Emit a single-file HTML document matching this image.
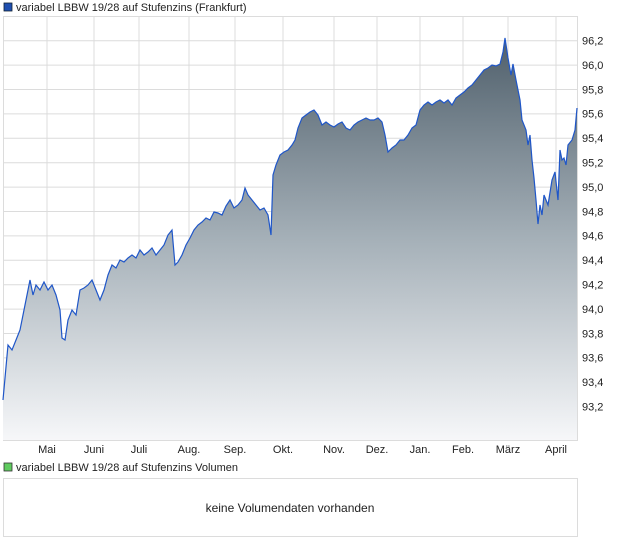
<!DOCTYPE html>
<html><head><meta charset="utf-8"><style>
body{margin:0;background:#fff;width:620px;height:546px;overflow:hidden;font-family:"Liberation Sans",sans-serif;}
svg text{font-family:"Liberation Sans",sans-serif;}
</style></head><body>
<svg width="620" height="546" xmlns="http://www.w3.org/2000/svg">
<defs><linearGradient id="g" gradientUnits="userSpaceOnUse" x1="0" y1="38" x2="0" y2="440">
<stop offset="0" stop-color="#4f5f6b"/><stop offset="0.5" stop-color="#a5b0b8"/><stop offset="1" stop-color="#f6f7f9"/></linearGradient></defs>
<rect x="4" y="3" width="8" height="8" fill="#1f4fb0" stroke="#123" stroke-width="0.8"/>
<text x="16" y="11" font-size="11" fill="#222">variabel LBBW 19/28 auf Stufenzins (Frankfurt)</text>
<g stroke="#dcdcdc" stroke-width="1">
<rect x="3.5" y="16.5" width="574" height="424" fill="#fff"/>
<line x1="47" y1="17" x2="47" y2="440"/><line x1="94" y1="17" x2="94" y2="440"/><line x1="139" y1="17" x2="139" y2="440"/><line x1="189" y1="17" x2="189" y2="440"/><line x1="235" y1="17" x2="235" y2="440"/><line x1="283" y1="17" x2="283" y2="440"/><line x1="334" y1="17" x2="334" y2="440"/><line x1="377" y1="17" x2="377" y2="440"/><line x1="420" y1="17" x2="420" y2="440"/><line x1="463" y1="17" x2="463" y2="440"/><line x1="508" y1="17" x2="508" y2="440"/><line x1="556" y1="17" x2="556" y2="440"/>
<line x1="3" y1="40.7" x2="578" y2="40.7"/><line x1="3" y1="65.1" x2="578" y2="65.1"/><line x1="3" y1="89.5" x2="578" y2="89.5"/><line x1="3" y1="113.9" x2="578" y2="113.9"/><line x1="3" y1="138.3" x2="578" y2="138.3"/><line x1="3" y1="162.7" x2="578" y2="162.7"/><line x1="3" y1="187.1" x2="578" y2="187.1"/><line x1="3" y1="211.5" x2="578" y2="211.5"/><line x1="3" y1="235.9" x2="578" y2="235.9"/><line x1="3" y1="260.3" x2="578" y2="260.3"/><line x1="3" y1="284.7" x2="578" y2="284.7"/><line x1="3" y1="309.1" x2="578" y2="309.1"/><line x1="3" y1="333.5" x2="578" y2="333.5"/><line x1="3" y1="357.9" x2="578" y2="357.9"/><line x1="3" y1="382.3" x2="578" y2="382.3"/><line x1="3" y1="406.7" x2="578" y2="406.7"/>
</g>
<path d="M3,400 L8,345 L12,350 L16,340 L20,330 L24,310 L28,290 L30,280 L33,295 L36,285 L40,290 L44,282 L48,290 L52,285 L56,295 L60,310 L62,338 L65,340 L68,320 L72,310 L76,315 L80,290 L84,288 L88,285 L92,280 L96,290 L100,300 L104,290 L108,275 L112,265 L116,268 L120,260 L124,262 L128,258 L132,255 L136,258 L140,250 L144,255 L148,252 L152,248 L156,255 L160,250 L164,245 L168,235 L172,230 L175,265 L178,262 L182,255 L186,245 L190,238 L194,230 L198,225 L202,222 L206,218 L210,220 L214,212 L218,213 L222,215 L226,206 L230,200 L234,208 L238,205 L242,200 L245,188 L248,195 L252,200 L256,205 L260,210 L264,208 L268,215 L271,235 L273,175 L276,165 L280,155 L284,152 L288,150 L292,145 L295,140 L298,128 L302,118 L306,115 L310,112 L314,110 L318,115 L322,125 L326,122 L330,125 L334,127 L338,124 L342,122 L346,128 L350,130 L354,125 L358,122 L362,120 L366,118 L370,120 L374,120 L378,118 L382,122 L385,135 L388,152 L392,148 L396,145 L400,140 L404,140 L408,135 L412,128 L416,125 L420,110 L424,105 L428,102 L432,105 L436,102 L440,100 L444,103 L448,100 L452,105 L456,98 L460,95 L464,92 L468,88 L472,85 L476,80 L480,75 L484,70 L488,68 L492,65 L496,66 L500,64 L503,52 L505,38 L508,58 L511,75 L513,64 L516,80 L520,100 L522,120 L526,130 L528,145 L530,135 L532,160 L534,178 L536,200 L538,224 L540,205 L542,215 L544,195 L548,205 L552,180 L555,172 L558,200 L560,150 L562,160 L564,158 L566,165 L568,145 L572,140 L575,130 L577,108 L577,440 L3,440 Z" fill="url(#g)"/>
<path d="M3,400 L8,345 L12,350 L16,340 L20,330 L24,310 L28,290 L30,280 L33,295 L36,285 L40,290 L44,282 L48,290 L52,285 L56,295 L60,310 L62,338 L65,340 L68,320 L72,310 L76,315 L80,290 L84,288 L88,285 L92,280 L96,290 L100,300 L104,290 L108,275 L112,265 L116,268 L120,260 L124,262 L128,258 L132,255 L136,258 L140,250 L144,255 L148,252 L152,248 L156,255 L160,250 L164,245 L168,235 L172,230 L175,265 L178,262 L182,255 L186,245 L190,238 L194,230 L198,225 L202,222 L206,218 L210,220 L214,212 L218,213 L222,215 L226,206 L230,200 L234,208 L238,205 L242,200 L245,188 L248,195 L252,200 L256,205 L260,210 L264,208 L268,215 L271,235 L273,175 L276,165 L280,155 L284,152 L288,150 L292,145 L295,140 L298,128 L302,118 L306,115 L310,112 L314,110 L318,115 L322,125 L326,122 L330,125 L334,127 L338,124 L342,122 L346,128 L350,130 L354,125 L358,122 L362,120 L366,118 L370,120 L374,120 L378,118 L382,122 L385,135 L388,152 L392,148 L396,145 L400,140 L404,140 L408,135 L412,128 L416,125 L420,110 L424,105 L428,102 L432,105 L436,102 L440,100 L444,103 L448,100 L452,105 L456,98 L460,95 L464,92 L468,88 L472,85 L476,80 L480,75 L484,70 L488,68 L492,65 L496,66 L500,64 L503,52 L505,38 L508,58 L511,75 L513,64 L516,80 L520,100 L522,120 L526,130 L528,145 L530,135 L532,160 L534,178 L536,200 L538,224 L540,205 L542,215 L544,195 L548,205 L552,180 L555,172 L558,200 L560,150 L562,160 L564,158 L566,165 L568,145 L572,140 L575,130 L577,108" fill="none" stroke="#1f56c8" stroke-width="1.2"/>
<g font-size="11" fill="#222">
<text x="582" y="44.5">96,2</text><text x="582" y="68.9">96,0</text><text x="582" y="93.3">95,8</text><text x="582" y="117.7">95,6</text><text x="582" y="142.1">95,4</text><text x="582" y="166.5">95,2</text><text x="582" y="190.9">95,0</text><text x="582" y="215.3">94,8</text><text x="582" y="239.7">94,6</text><text x="582" y="264.1">94,4</text><text x="582" y="288.5">94,2</text><text x="582" y="312.9">94,0</text><text x="582" y="337.3">93,8</text><text x="582" y="361.7">93,6</text><text x="582" y="386.1">93,4</text><text x="582" y="410.5">93,2</text>
</g>
<g font-size="11" fill="#222" text-anchor="middle">
<text x="47" y="453">Mai</text><text x="94" y="453">Juni</text><text x="139" y="453">Juli</text><text x="189" y="453">Aug.</text><text x="235" y="453">Sep.</text><text x="283" y="453">Okt.</text><text x="334" y="453">Nov.</text><text x="377" y="453">Dez.</text><text x="420" y="453">Jan.</text><text x="463" y="453">Feb.</text><text x="508" y="453">März</text><text x="556" y="453">April</text>
</g>
<rect x="4" y="463" width="8" height="8" fill="#5fcb5f" stroke="#333" stroke-width="0.8"/>
<text x="16" y="471" font-size="11" fill="#222">variabel LBBW 19/28 auf Stufenzins Volumen</text>
<rect x="3.5" y="478.5" width="574" height="58" fill="#fff" stroke="#dcdcdc"/>
<text x="290" y="512" font-size="12" fill="#222" text-anchor="middle">keine Volumendaten vorhanden</text>
</svg>
</body></html>
